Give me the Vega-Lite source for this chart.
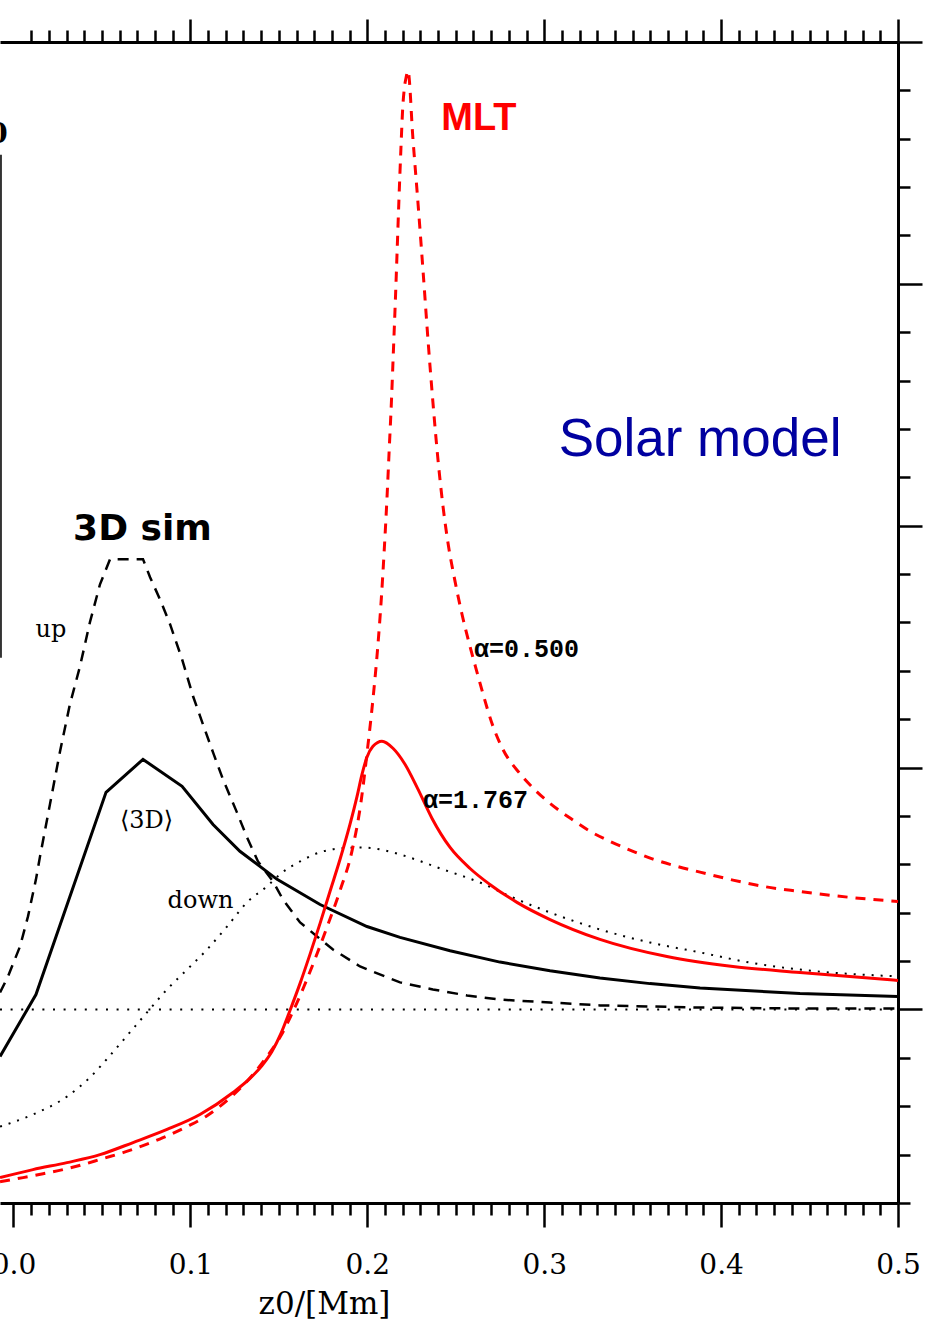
{
  "$schema": "https://vega.github.io/schema/vega-lite/v6.json",
  "width": 898,
  "height": 1161,
  "autosize": {"type": "none"},
  "padding": {"left": 0, "top": 42, "right": 36, "bottom": 116},
  "background": "white",
  "config": {"view": {"stroke": null}},
  "datasets": {
    "mean": [
      {"z": -0.0076, "v": -0.194}, {"z": 0.0127, "v": 0.062}, {"z": 0.0523, "v": 0.898},
      {"z": 0.0732, "v": 1.034}, {"z": 0.0953, "v": 0.923}, {"z": 0.1128, "v": 0.765},
      {"z": 0.128, "v": 0.654}, {"z": 0.149, "v": 0.538}, {"z": 0.1733, "v": 0.434},
      {"z": 0.1998, "v": 0.343}, {"z": 0.2185, "v": 0.298}, {"z": 0.2468, "v": 0.243},
      {"z": 0.275, "v": 0.196}, {"z": 0.3033, "v": 0.16}, {"z": 0.3315, "v": 0.13},
      {"z": 0.3598, "v": 0.107}, {"z": 0.3881, "v": 0.089}, {"z": 0.4446, "v": 0.066},
      {"z": 0.5, "v": 0.054}
    ],
    "up": [
      {"z": -0.0076, "v": 0.07}, {"z": -0.0031, "v": 0.137}, {"z": 0.0037, "v": 0.261},
      {"z": 0.0082, "v": 0.385}, {"z": 0.0127, "v": 0.538}, {"z": 0.015, "v": 0.633},
      {"z": 0.0206, "v": 0.848}, {"z": 0.0263, "v": 1.067}, {"z": 0.0319, "v": 1.262},
      {"z": 0.0376, "v": 1.419}, {"z": 0.0432, "v": 1.601}, {"z": 0.0489, "v": 1.758},
      {"z": 0.0546, "v": 1.862}, {"z": 0.0732, "v": 1.862}, {"z": 0.0772, "v": 1.787},
      {"z": 0.0828, "v": 1.696}, {"z": 0.0885, "v": 1.593}, {"z": 0.0953, "v": 1.448},
      {"z": 0.1015, "v": 1.295}, {"z": 0.1071, "v": 1.179}, {"z": 0.1128, "v": 1.063},
      {"z": 0.1184, "v": 0.952}, {"z": 0.1263, "v": 0.815}, {"z": 0.132, "v": 0.712},
      {"z": 0.1382, "v": 0.612}, {"z": 0.1467, "v": 0.53}, {"z": 0.1523, "v": 0.455},
      {"z": 0.162, "v": 0.36}, {"z": 0.1716, "v": 0.302}, {"z": 0.1806, "v": 0.248},
      {"z": 0.1959, "v": 0.178}, {"z": 0.2185, "v": 0.112}, {"z": 0.2371, "v": 0.083},
      {"z": 0.2564, "v": 0.058}, {"z": 0.275, "v": 0.041}, {"z": 0.3033, "v": 0.029},
      {"z": 0.3315, "v": 0.017}, {"z": 0.3881, "v": 0.008}, {"z": 0.4446, "v": 0.004},
      {"z": 0.5, "v": 0.004}
    ],
    "down": [
      {"z": -0.0076, "v": -0.484}, {"z": 0.011, "v": -0.434}, {"z": 0.0302, "v": -0.36},
      {"z": 0.0432, "v": -0.281}, {"z": 0.0546, "v": -0.19}, {"z": 0.0676, "v": -0.079},
      {"z": 0.0755, "v": -0.012}, {"z": 0.0868, "v": 0.083}, {"z": 0.0981, "v": 0.165},
      {"z": 0.1094, "v": 0.248}, {"z": 0.1207, "v": 0.343}, {"z": 0.132, "v": 0.443},
      {"z": 0.1433, "v": 0.509}, {"z": 0.1506, "v": 0.559}, {"z": 0.162, "v": 0.612},
      {"z": 0.1733, "v": 0.65}, {"z": 0.1846, "v": 0.666}, {"z": 0.1959, "v": 0.67},
      {"z": 0.2072, "v": 0.662}, {"z": 0.2185, "v": 0.641}, {"z": 0.2428, "v": 0.579},
      {"z": 0.2637, "v": 0.525}, {"z": 0.2807, "v": 0.468}, {"z": 0.3033, "v": 0.401},
      {"z": 0.3315, "v": 0.331}, {"z": 0.3598, "v": 0.277}, {"z": 0.3881, "v": 0.236},
      {"z": 0.4163, "v": 0.194}, {"z": 0.4446, "v": 0.165}, {"z": 0.5, "v": 0.137}
    ],
    "mlt_a1767": [
      {"z": -0.0076, "v": -0.695}, {"z": 0.011, "v": -0.662}, {"z": 0.0302, "v": -0.633},
      {"z": 0.0489, "v": -0.6}, {"z": 0.0676, "v": -0.55}, {"z": 0.0868, "v": -0.496},
      {"z": 0.1054, "v": -0.434}, {"z": 0.1241, "v": -0.343}, {"z": 0.1337, "v": -0.285},
      {"z": 0.1405, "v": -0.232}, {"z": 0.1461, "v": -0.174}, {"z": 0.1512, "v": -0.099},
      {"z": 0.1563, "v": -0.004}, {"z": 0.162, "v": 0.108}, {"z": 0.1676, "v": 0.228},
      {"z": 0.1733, "v": 0.356}, {"z": 0.1789, "v": 0.488}, {"z": 0.1846, "v": 0.621},
      {"z": 0.1902, "v": 0.765}, {"z": 0.1942, "v": 0.881}, {"z": 0.197, "v": 0.972},
      {"z": 0.1998, "v": 1.043}, {"z": 0.2032, "v": 1.088}, {"z": 0.2083, "v": 1.109},
      {"z": 0.2145, "v": 1.08}, {"z": 0.2213, "v": 1.014}, {"z": 0.2287, "v": 0.91},
      {"z": 0.2366, "v": 0.79}, {"z": 0.2468, "v": 0.67}, {"z": 0.2581, "v": 0.583},
      {"z": 0.2693, "v": 0.517}, {"z": 0.2846, "v": 0.443}, {"z": 0.3033, "v": 0.372},
      {"z": 0.3315, "v": 0.29}, {"z": 0.3694, "v": 0.219}, {"z": 0.4067, "v": 0.178},
      {"z": 0.4446, "v": 0.153}, {"z": 0.5, "v": 0.12}
    ],
    "mlt_a0500": [
      {"z": -0.0076, "v": -0.712}, {"z": 0.0054, "v": -0.695}, {"z": 0.0167, "v": -0.679},
      {"z": 0.028, "v": -0.662}, {"z": 0.0393, "v": -0.641}, {"z": 0.0506, "v": -0.616},
      {"z": 0.0619, "v": -0.592}, {"z": 0.0732, "v": -0.563}, {"z": 0.0845, "v": -0.53},
      {"z": 0.0981, "v": -0.484}, {"z": 0.1094, "v": -0.439}, {"z": 0.1179, "v": -0.393},
      {"z": 0.1263, "v": -0.339}, {"z": 0.1354, "v": -0.269}, {"z": 0.1433, "v": -0.194},
      {"z": 0.1512, "v": -0.108}, {"z": 0.158, "v": -0.008}, {"z": 0.1642, "v": 0.095},
      {"z": 0.171, "v": 0.219}, {"z": 0.1778, "v": 0.352}, {"z": 0.1846, "v": 0.492},
      {"z": 0.1913, "v": 0.654}, {"z": 0.1964, "v": 0.856}, {"z": 0.2001, "v": 1.076},
      {"z": 0.2032, "v": 1.283}, {"z": 0.2058, "v": 1.489}, {"z": 0.2079, "v": 1.696},
      {"z": 0.2096, "v": 1.903}, {"z": 0.2111, "v": 2.11}, {"z": 0.2124, "v": 2.317},
      {"z": 0.2137, "v": 2.524}, {"z": 0.2148, "v": 2.731}, {"z": 0.2159, "v": 2.938},
      {"z": 0.2169, "v": 3.144}, {"z": 0.2179, "v": 3.351}, {"z": 0.219, "v": 3.558},
      {"z": 0.22, "v": 3.724}, {"z": 0.2209, "v": 3.806}, {"z": 0.2219, "v": 3.852},
      {"z": 0.223, "v": 3.881}, {"z": 0.2258, "v": 3.6}, {"z": 0.2287, "v": 3.33},
      {"z": 0.2315, "v": 3.055}, {"z": 0.2343, "v": 2.77}, {"z": 0.2371, "v": 2.51},
      {"z": 0.24, "v": 2.27}, {"z": 0.2428, "v": 2.08}, {"z": 0.2456, "v": 1.93},
      {"z": 0.2496, "v": 1.77}, {"z": 0.2535, "v": 1.635}, {"z": 0.2581, "v": 1.5},
      {"z": 0.262, "v": 1.395}, {"z": 0.2654, "v": 1.305}, {"z": 0.2711, "v": 1.17},
      {"z": 0.2767, "v": 1.075}, {"z": 0.2863, "v": 0.975}, {"z": 0.2959, "v": 0.9},
      {"z": 0.3072, "v": 0.83}, {"z": 0.3163, "v": 0.783}, {"z": 0.3259, "v": 0.737},
      {"z": 0.3372, "v": 0.695}, {"z": 0.3502, "v": 0.654}, {"z": 0.3615, "v": 0.622},
      {"z": 0.3751, "v": 0.592}, {"z": 0.3881, "v": 0.568}, {"z": 0.4067, "v": 0.535},
      {"z": 0.4254, "v": 0.507}, {"z": 0.4446, "v": 0.488}, {"z": 0.4633, "v": 0.471},
      {"z": 0.4825, "v": 0.457}, {"z": 0.5, "v": 0.447}
    ],
    "zero": [{"z": -0.00763, "v": 0}, {"z": 0.5, "v": 0}],
    "serifLabels": [
      {"z": 0.0212, "v": 1.538, "t": "up"},
      {"z": 0.0752, "v": 0.752, "t": "⟨3D⟩"},
      {"z": 0.1057, "v": 0.421, "t": "down"}
    ],
    "alphaLabels": [
      {"z": 0.2603, "v": 1.458, "t": "α=0.500"},
      {"z": 0.2315, "v": 0.835, "t": "α=1.767"}
    ],
    "simTitle": [{"z": 0.0729, "v": 1.942, "t": "3D sim"}],
    "mltTitle": [{"z": 0.2631, "v": 3.637, "t": "MLT"}],
    "modelTitle": [{"z": 0.3881, "v": 2.289, "t": "Solar model"}],
    "edgeGlyph": [{"z": -0.0088, "v": 3.615, "t": "0"}],
    "edgeBar": [{"z": -0.0071, "v": 3.534, "v2": 1.454}]
  },
  "resolve": {
    "scale": {"x": "independent", "y": "independent"},
    "axis": {"x": "independent", "y": "independent"}
  },
  "layer": [
    {
      "encoding": {
        "x": {
          "field": "z",
          "type": "quantitative",
          "scale": {"domain": [-0.00763, 0.5], "nice": false, "zero": false},
          "axis": {
            "orient": "bottom",
            "values": [0, 0.01, 0.02, 0.03, 0.04, 0.05, 0.06, 0.07, 0.08, 0.09, 0.1, 0.11, 0.12, 0.13, 0.14, 0.15, 0.16, 0.17, 0.18, 0.19, 0.2, 0.21, 0.22, 0.23, 0.24, 0.25, 0.26, 0.27, 0.28, 0.29, 0.3, 0.31, 0.32, 0.33, 0.34, 0.35, 0.36, 0.37, 0.38, 0.39, 0.4, 0.41, 0.42, 0.43, 0.44, 0.45, 0.46, 0.47, 0.48, 0.49, 0.5],
            "tickSize": {"condition": {"test": "abs(datum.value*10 - round(datum.value*10)) < 0.001", "value": 24}, "value": 12},
            "tickWidth": 2.5,
            "tickColor": "black",
            "domainColor": "black",
            "domainWidth": 3,
            "grid": false,
            "labelExpr": "abs(datum.value*10 - round(datum.value*10)) < 0.001 ? format(datum.value, '.1f') : ''",
            "labelFont": "DejaVu Serif",
            "labelFontSize": 28,
            "labelColor": "black",
            "labelBaseline": "alphabetic",
            "labelPadding": 46,
            "labelOverlap": false,
            "labelFlush": false,
            "labelBound": false,
            "title": "z0/[Mm]",
            "titleFont": "DejaVu Serif",
            "titleFontSize": 31,
            "titleFontWeight": "normal",
            "titleColor": "black",
            "titleBaseline": "alphabetic",
            "titleX": 324,
            "titleY": 110
          }
        },
        "y": {
          "field": "v",
          "type": "quantitative",
          "scale": {"domain": [-0.8, 4.0], "nice": false, "zero": false},
          "axis": {
            "orient": "right",
            "values": [-0.8, -0.6, -0.4, -0.2, 0, 0.2, 0.4, 0.6, 0.8, 1, 1.2, 1.4, 1.6, 1.8, 2, 2.2, 2.4, 2.6, 2.8, 3, 3.2, 3.4, 3.6, 3.8, 4],
            "tickSize": {"condition": {"test": "abs(datum.value - round(datum.value)) < 0.001", "value": 24}, "value": 12},
            "tickWidth": 2.5,
            "tickColor": "black",
            "domainColor": "black",
            "domainWidth": 3,
            "grid": false,
            "labels": false,
            "title": null
          }
        }
      },
      "layer": [
        {
          "data": {"name": "down"},
          "mark": {"type": "line", "color": "black", "strokeWidth": 2, "strokeDash": [2, 7], "interpolate": "monotone"}
        },
        {
          "data": {"name": "up"},
          "mark": {"type": "line", "color": "black", "strokeWidth": 2.5, "strokeDash": [11, 8], "interpolate": "linear"}
        },
        {
          "data": {"name": "mean"},
          "mark": {"type": "line", "color": "black", "strokeWidth": 3, "interpolate": "linear"}
        },
        {
          "data": {"name": "mlt_a0500"},
          "mark": {"type": "line", "color": "#ff0000", "strokeWidth": 3, "strokeDash": [10, 8], "interpolate": "monotone"}
        },
        {
          "data": {"name": "mlt_a1767"},
          "mark": {"type": "line", "color": "#ff0000", "strokeWidth": 3, "interpolate": "monotone"}
        },
        {
          "data": {"name": "edgeBar"},
          "mark": {"type": "rule", "color": "#333333", "strokeWidth": 2},
          "encoding": {"y2": {"field": "v2"}}
        },
        {
          "data": {"name": "edgeGlyph"},
          "mark": {"type": "text", "font": "DejaVu Serif", "fontSize": 28, "fontWeight": "bold", "align": "center", "baseline": "middle", "color": "black"},
          "encoding": {"text": {"field": "t"}}
        },
        {
          "data": {"name": "serifLabels"},
          "mark": {"type": "text", "font": "DejaVu Serif", "fontSize": 24, "align": "center", "baseline": "alphabetic", "color": "black"},
          "encoding": {"text": {"field": "t"}}
        },
        {
          "data": {"name": "alphaLabels"},
          "mark": {"type": "text", "font": "Liberation Mono", "fontSize": 25, "fontWeight": "bold", "align": "left", "baseline": "alphabetic", "color": "black"},
          "encoding": {"text": {"field": "t"}}
        },
        {
          "data": {"name": "simTitle"},
          "mark": {"type": "text", "font": "DejaVu Sans", "fontSize": 36, "fontWeight": "bold", "align": "center", "baseline": "alphabetic", "color": "black"},
          "encoding": {"text": {"field": "t"}}
        },
        {
          "data": {"name": "mltTitle"},
          "mark": {"type": "text", "font": "Liberation Sans", "fontSize": 38, "fontWeight": "bold", "align": "center", "baseline": "alphabetic", "color": "#ff0000"},
          "encoding": {"text": {"field": "t"}}
        },
        {
          "data": {"name": "modelTitle"},
          "mark": {"type": "text", "font": "Liberation Sans", "fontSize": 53, "align": "center", "baseline": "alphabetic", "color": "#0000a0"},
          "encoding": {"text": {"field": "t"}}
        }
      ]
    },
    {
      "data": {"name": "zero"},
      "mark": {"type": "line", "color": "black", "strokeWidth": 2, "strokeDash": [2, 8.6]},
      "encoding": {
        "x": {
          "field": "z",
          "type": "quantitative",
          "scale": {"domain": [-0.00763, 0.5], "nice": false, "zero": false},
          "axis": {
            "orient": "top",
            "values": [0.01, 0.02, 0.03, 0.04, 0.05, 0.06, 0.07, 0.08, 0.09, 0.1, 0.11, 0.12, 0.13, 0.14, 0.15, 0.16, 0.17, 0.18, 0.19, 0.2, 0.21, 0.22, 0.23, 0.24, 0.25, 0.26, 0.27, 0.28, 0.29, 0.3, 0.31, 0.32, 0.33, 0.34, 0.35, 0.36, 0.37, 0.38, 0.39, 0.4, 0.41, 0.42, 0.43, 0.44, 0.45, 0.46, 0.47, 0.48, 0.49, 0.5],
            "tickSize": {"condition": {"test": "abs(datum.value*10 - round(datum.value*10)) < 0.001", "value": 23}, "value": 12},
            "tickWidth": 2.5,
            "tickColor": "black",
            "domainColor": "black",
            "domainWidth": 3,
            "grid": false,
            "labels": false,
            "title": null
          }
        },
        "y": {
          "field": "v",
          "type": "quantitative",
          "scale": {"domain": [-0.8, 4.0], "nice": false, "zero": false},
          "axis": null
        }
      }
    }
  ]
}
